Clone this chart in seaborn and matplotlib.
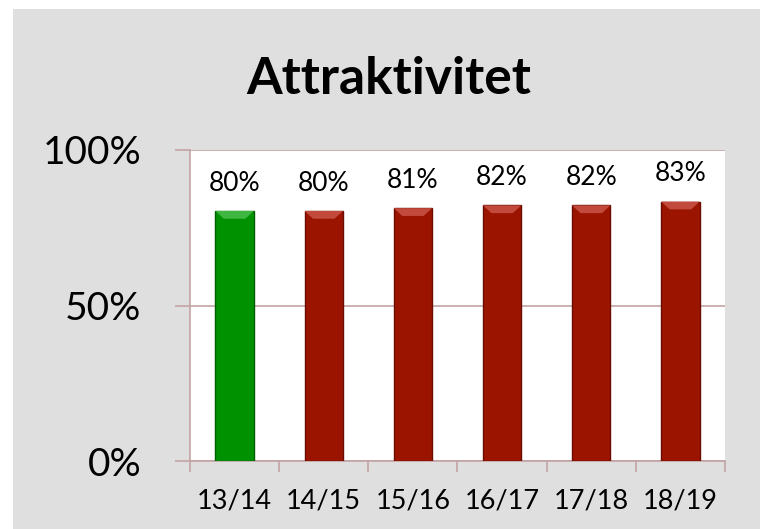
"""
Attraktivitet: stapeldiagram per läsår
"""

import numpy as np
import pandas as pd
import matplotlib
matplotlib.use('Agg')
import matplotlib.pyplot as plt
from matplotlib.patches import Rectangle, Polygon
from matplotlib.ticker import FixedLocator, PercentFormatter
import seaborn as sns

# Data
seasons = ['13/14', '14/15', '15/16', '16/17', '17/18', '18/19']
values = [0.804, 0.804, 0.813, 0.822, 0.822, 0.834]
labels = ['80%', '80%', '81%', '82%', '82%', '83%']
bar_colors = ['#009100', '#9b1400', '#9b1400', '#9b1400', '#9b1400', '#9b1400']
edge_colors = ['#005e00', '#6a0d00', '#6a0d00', '#6a0d00', '#6a0d00', '#6a0d00']
cap_colors = ['#3fb63f', '#c24a3c', '#c24a3c', '#c24a3c', '#c24a3c', '#c24a3c']

sns.set_style('white')
plt.rcParams['font.family'] = ['Lato', 'DejaVu Sans']
plt.rcParams['text.color'] = 'black'

grid_col = '#c3a3a3'
bg_col = '#dfdfdf'

df = pd.DataFrame({'season': seasons, 'value': values})

fig = plt.figure(figsize=(7.6, 5.29), dpi=100)
fig.patch.set_facecolor('white')
# grå bakgrund (med vit kant uppe och till vänster)
fig.patches.append(Rectangle((13 / 760, 0), 1, 1 - 9 / 529, transform=fig.transFigure,
                             facecolor=bg_col, edgecolor='none', zorder=-10))

ax = fig.add_axes([190 / 760, 1 - 461 / 529, 535 / 760, 311 / 529])
ax.set_facecolor('white')

sns.barplot(data=df, x='season', y='value', hue='season', palette=bar_colors,
            saturation=1, legend=False, width=0.43, ax=ax, zorder=3)

# kant + ljus "fasad" topp som i Excel
bevel = 0.025
for patch, ec, cc in zip(list(ax.patches), edge_colors, cap_colors):
    patch.set_edgecolor(ec)
    patch.set_linewidth(1.0)
    x0, w, h = patch.get_x(), patch.get_width(), patch.get_height()
    inset = w * 0.22
    cap = Polygon([(x0, h), (x0 + w, h), (x0 + w - inset, h - bevel), (x0 + inset, h - bevel)],
                  closed=True, facecolor=cc, edgecolor='none', zorder=4)
    ax.add_patch(cap)

# Värdeetiketter
for i, (v, lab) in enumerate(zip(values, labels)):
    ax.annotate(lab, (i, v), xytext=(0, 20), textcoords='offset points',
                ha='center', va='center', fontsize=19, color='black')

ax.set_ylim(0, 1)
ax.set_xlim(-0.5, len(seasons) - 0.5)
ax.yaxis.set_major_locator(FixedLocator([0, 0.5, 1.0]))
ax.yaxis.set_major_formatter(PercentFormatter(1.0, decimals=0))
ax.grid(axis='y', color=grid_col, linewidth=1.2, zorder=0)
ax.set_axisbelow(True)

ax.set_xlabel('')
ax.set_ylabel('')

for side in ['top', 'right']:
    ax.spines[side].set_visible(False)
for side in ['left', 'bottom']:
    ax.spines[side].set_color(grid_col)
    ax.spines[side].set_linewidth(1.2)

ax.tick_params(axis='y', which='major', direction='out', length=11, width=1.2,
               color=grid_col, labelcolor='black', labelsize=28, pad=24, left=True)
ax.xaxis.set_minor_locator(FixedLocator(np.arange(-0.5, len(seasons), 1.0)))
ax.tick_params(axis='x', which='major', length=0, labelsize=19.5, labelcolor='black', pad=20)
ax.tick_params(axis='x', which='minor', direction='out', length=8, width=1.2,
               color=grid_col, bottom=True)

fig.text(389 / 760, 1 - 80 / 529, 'Attraktivitet', ha='center', va='center',
         fontsize=37, fontweight='bold', color='black')

plt.savefig('out.png', dpi=100)
